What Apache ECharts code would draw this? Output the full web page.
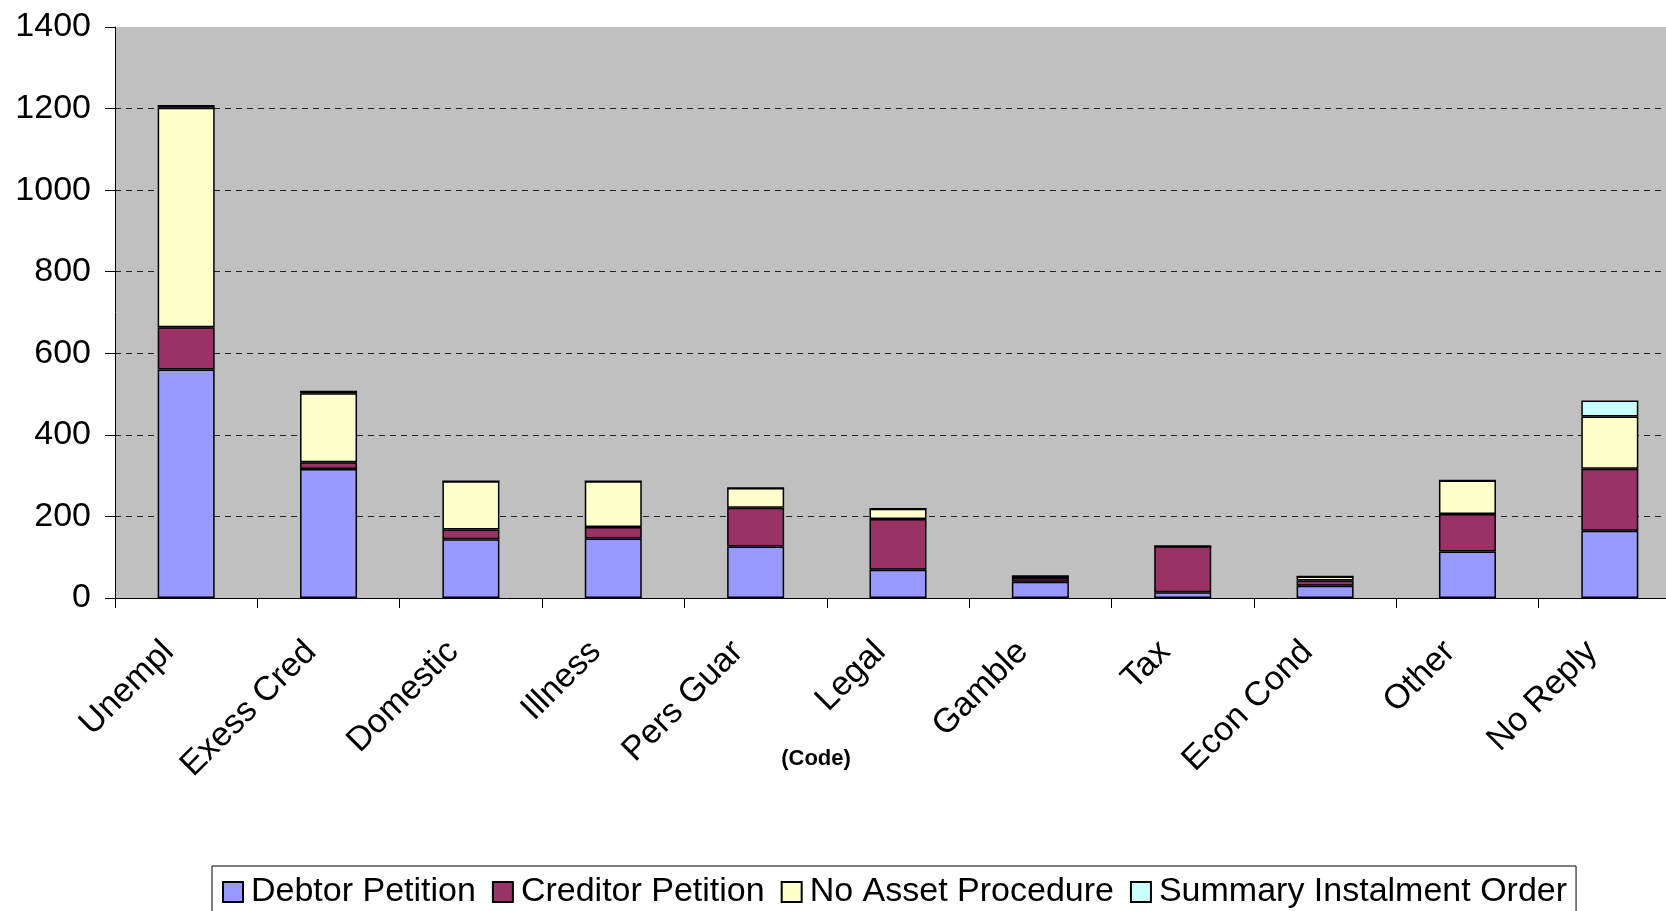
<!DOCTYPE html>
<html>
<head>
<meta charset="utf-8">
<style>
  html, body { margin: 0; padding: 0; background: #ffffff; overflow: hidden; }
  #chart { width: 1681px; height: 911px; }
</style>
<script src="https://cdn.jsdelivr.net/npm/echarts@6/dist/echarts.min.js"></script>
</head>
<body>
<div id="chart"></div>
<script>
const categories = ['Unempl', 'Exess Cred', 'Domestic', 'Illness', 'Pers Guar', 'Legal', 'Gamble', 'Tax', 'Econ Cond', 'Other', 'No Reply'];
const debtorPetition   = [560, 316, 144, 146, 126, 69, 40, 14, 30, 114, 165];
const creditorPetition = [104, 17, 24, 28, 95, 125, 9, 113, 13, 92, 152];
const noAssetProcedure = [538, 169, 118, 112, 49, 25, 5, 0, 10, 82, 128];
const summaryInstalmentOrder = [7, 6, 0, 0, 0, 0, 0, 0, 0, 0, 39];
const yTicks = { min: 0, max: 1400, interval: 200 };

const FONT = "'Liberation Sans', Arial, sans-serif";
const chart = echarts.init(document.getElementById('chart'), null, { renderer: 'canvas' });

function mkSeries(name, data, color) {
  return {
    name: name,
    type: 'bar',
    stack: 'total',
    data: data,
    barWidth: 57,
    itemStyle: { color: color, borderColor: '#000000', borderWidth: 1.5 },
    emphasis: { disabled: true }
  };
}

chart.setOption({
  animation: false,
  backgroundColor: '#ffffff',
  textStyle: { fontFamily: FONT },
  grid: {
    left: 115, right: 0, top: 27, bottom: 313,
    show: true, backgroundColor: '#C0C0C0', borderWidth: 0
  },
  xAxis: {
    type: 'category',
    data: categories,
    axisLine: { lineStyle: { color: '#000000', width: 1 } },
    axisTick: { show: true, length: 10, lineStyle: { color: '#000000' } },
    axisLabel: { rotate: 45, fontSize: 34, color: '#000000', fontFamily: FONT, margin: 31, interval: 0, padding: [0, 25, 0, 0] },
    splitLine: { show: false }
  },
  yAxis: {
    type: 'value',
    min: yTicks.min, max: yTicks.max, interval: yTicks.interval,
    axisLine: { show: true, lineStyle: { color: '#000000', width: 1 } },
    axisTick: { show: true, length: 10, lineStyle: { color: '#000000' } },
    axisLabel: { fontSize: 34, color: '#000000', fontFamily: FONT, margin: 24, formatter: function (v) { return String(v); } },
    splitLine: { show: true, showMaxLine: false, showMinLine: false, lineStyle: { color: '#222222', width: 1, type: [6, 5] } }
  },
  legend: {
    show: true,
    left: 212, top: 866,
    orient: 'horizontal',
    padding: [9, 9, 9, 10],
    itemWidth: 20, itemHeight: 20, itemGap: 16,
    icon: 'rect',
    backgroundColor: '#ffffff',
    borderColor: '#000000', borderWidth: 1,
    textStyle: { fontSize: 34, color: '#000000', fontFamily: FONT, padding: [0, 0, 0, 3] },
    data: ['Debtor Petition', 'Creditor Petition', 'No Asset Procedure', 'Summary Instalment Order']
  },
  graphic: [{
    type: 'text',
    x: 816, y: 759,
    style: { text: '(Code)', font: "bold 22px 'Liberation Sans', Arial, sans-serif", fill: '#000000', textAlign: 'center', textVerticalAlign: 'middle' }
  }],
  series: [
    mkSeries('Debtor Petition', debtorPetition, '#9999FF'),
    mkSeries('Creditor Petition', creditorPetition, '#993366'),
    mkSeries('No Asset Procedure', noAssetProcedure, '#FFFFCC'),
    mkSeries('Summary Instalment Order', summaryInstalmentOrder, '#CCFFFF')
  ]
});
</script>
</body>
</html>
